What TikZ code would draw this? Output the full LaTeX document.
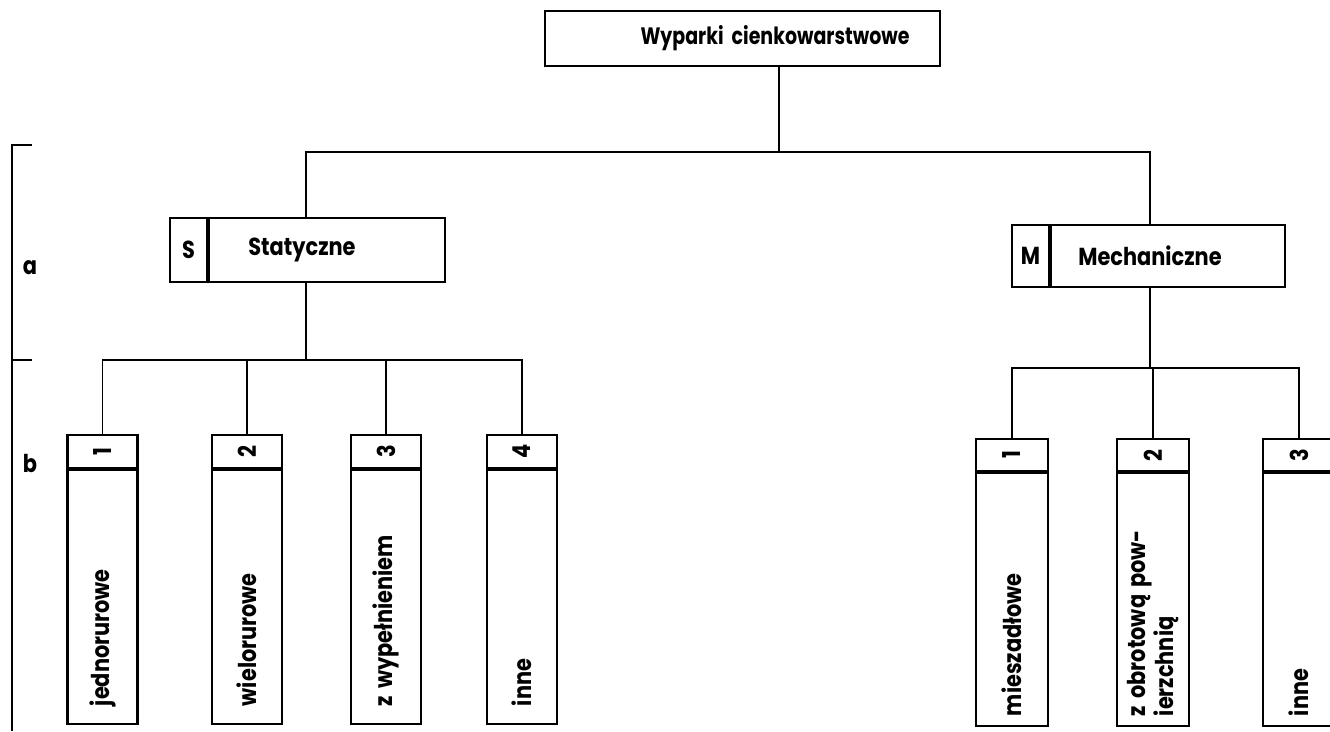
\documentclass[tikz,border=0pt]{standalone}
\usepackage{fontspec}
\setmainfont{Poppins}[FakeStretch=0.85,WordSpace=1.6]
\newfontfamily\titlefont{Poppins}[FakeStretch=0.8,WordSpace=2]
\usetikzlibrary{positioning}

\begin{document}
\begin{tikzpicture}[x=0.02cm,y=-0.02cm,line width=0.8pt,
    box/.style={draw,line width=1.2pt,rectangle,inner sep=0pt},
    txt/.style={font=\bfseries\fontsize{14}{16}\selectfont,inner sep=0pt}]
\useasboundingbox (0,0) rectangle (1330,731);
\clip (0,0) rectangle (1330,731);

% root
\node[box,minimum width=7.9cm,minimum height=1.1cm] (root) at (742.5,38.5) {};
\node[txt,font=\titlefont\bfseries\fontsize{13.5}{16}\selectfont] (roottxt) at (775,38) {Wyparki cienkowarstwowe};

% level a
\node[box,minimum width=0.74cm,minimum height=1.28cm] (Sk) at (188.5,250) {};
\node[box,minimum width=4.72cm,minimum height=1.28cm,anchor=west] (Sc) at (Sk.east) {};
\node[txt] at (Sk) {S};
\node[txt] (Stxt) at (302,250) {Statyczne};

\node[box,minimum width=0.74cm,minimum height=1.24cm] (Mk) at (1030.5,256) {};
\node[box,minimum width=4.68cm,minimum height=1.24cm,anchor=west] (Mc) at (Mk.east) {};
\node[txt] at (Mk) {M};
\node[txt] (Mtxt) at (1150,256) {Mechaniczne};

% level b
\begin{scope}[every node/.style={box,minimum width=1.4cm}]
\foreach \i/\x/\t in {1/102.5/jednorurowe,2/247/wielorurowe,3/386/z wypełnieniem,4/522/inne}{
    \node[minimum height=0.66cm,anchor=north] (Sh\i) at (\x,434) {};
    \node[minimum height=5.08cm,anchor=north] (Sb\i) at (Sh\i.south) {};
    \node[txt,draw=none,rotate=90,minimum width=0pt] at (Sh\i) {\i};
    \node[txt,draw=none,rotate=90,minimum width=0pt,anchor=west] at ([yshift=0.36cm]Sb\i.south) {\t};
}
\end{scope}

\begin{scope}[every node/.style={box,minimum width=1.44cm}]
\foreach \i/\x/\t in {1/1012/mieszadłowe,2/1153/{z obrotową pow-\\ierzchnią},3/1299/inne}{
    \node[minimum height=0.64cm,anchor=north] (Mh\i) at (\x,438) {};
    \node[minimum height=5.06cm,anchor=north] (Mb\i) at (Mh\i.south) {};
    \node[txt,draw=none,rotate=90,minimum width=0pt] at (Mh\i) {\i};
    \node[txt,draw=none,rotate=90,minimum width=0pt,anchor=west,align=left] at ([yshift=0.2cm]Mb\i.south) {\t};
}
\end{scope}

% connectors
\coordinate (bus) at (779,152);
\coordinate (Sin) at (306,218);
\coordinate (Min) at (1150,225);
\draw (bus |- root.south) -- (bus);
\draw (bus) -| (Sin);
\draw (bus) -| (Min);

\coordinate (Sbus) at (306,360);
\coordinate (Mbus) at (1150,368);
\draw (Sbus |- Sc.south) -- (Sbus);
\draw (Mbus |- Mc.south) -- (Mbus);
\foreach \i in {1,...,4} \draw (Sbus) -| (Sh\i.north);
\foreach \i in {1,...,3} \draw (Mbus) -| (Mh\i.north);

% levels
\draw (32,145) -- (12,145) -- (12,731);
\draw (12,360) -- (32,360);
\node[txt] (la) at (30,268) {a};
\node[txt] (lb) at (30,463) {b};
\end{tikzpicture}
\end{document}
